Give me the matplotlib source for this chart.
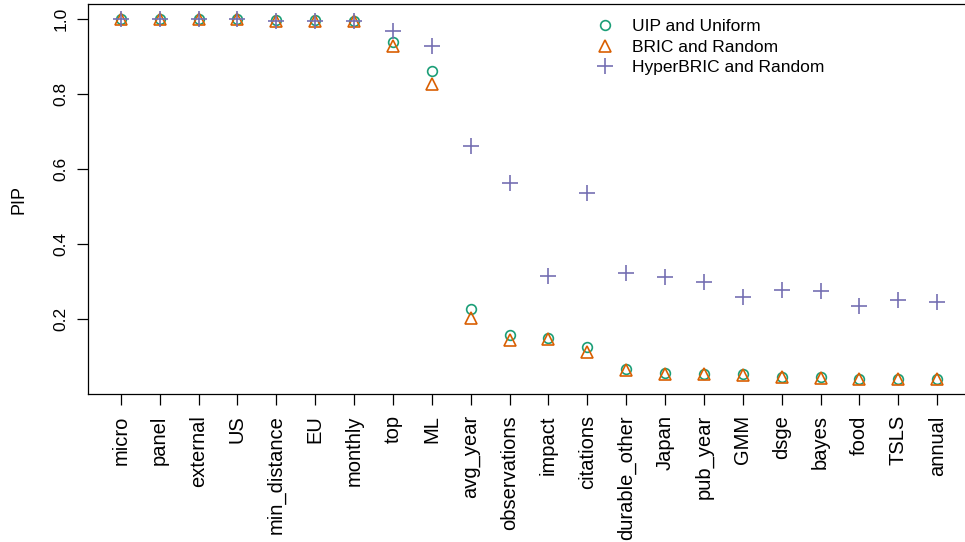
import matplotlib
matplotlib.use("Agg")
import matplotlib.pyplot as plt
import numpy as np

plt.rcParams["font.family"] = ["Liberation Sans", "DejaVu Sans"]

variables = ["micro", "panel", "external", "US", "min_distance", "EU", "monthly",
             "top", "ML", "avg_year", "observations", "impact", "citations",
             "durable_other", "Japan", "pub_year", "GMM", "dsge", "bayes", "food",
             "TSLS", "annual"]
pip_uip = [1.000, 1.000, 1.000, 0.999, 0.996, 0.996, 0.994, 0.937, 0.860, 0.225,
           0.157, 0.149, 0.126, 0.067, 0.056, 0.054, 0.052, 0.046, 0.044, 0.041,
           0.041, 0.041]
pip_bric = [1.000, 1.000, 1.000, 0.999, 0.995, 0.995, 0.993, 0.928, 0.826, 0.201,
            0.143, 0.147, 0.112, 0.064, 0.053, 0.052, 0.050, 0.044, 0.042, 0.039,
            0.039, 0.039]
pip_hyper = [1.000, 1.000, 1.000, 0.999, 0.995, 0.995, 0.995, 0.966, 0.928, 0.661,
             0.562, 0.313, 0.535, 0.322, 0.311, 0.299, 0.257, 0.277, 0.275, 0.235,
             0.251, 0.246]

GREEN, ORANGE, PURPLE = "#1B9E77", "#D95F02", "#7570B3"

fig = plt.figure(figsize=(9.65, 5.42), dpi=100)
ax = fig.add_axes([0.0913, 0.2725, 0.9138, 0.7201])
x = np.arange(1, len(variables) + 1)

ax.plot(x, pip_uip, ls="none", marker="o", ms=7, mfc="none", mec=GREEN, mew=1.2,
        label="UIP and Uniform")
ax.plot(x, pip_bric, ls="none", marker="^", ms=9, mfc="none", mec=ORANGE, mew=1.2,
        label="BRIC and Random")
ax.plot(x, pip_hyper, ls="none", marker="+", ms=11, mec=PURPLE, mew=1.2,
        label="HyperBRIC and Random")

ax.set_xlim(0.16, 22.84)
ax.set_ylim(-0.001, 1.039)
ax.set_xticks(x)
ax.set_xticklabels(variables, rotation=90, fontsize=14.5)
ax.set_yticks([0.2, 0.4, 0.6, 0.8, 1.0])
ax.set_yticklabels(["0.2", "0.4", "0.6", "0.8", "1.0"], rotation=90, va="center",
                   fontsize=12.5)
ax.tick_params(direction="out", length=8, width=0.9, pad=6)
ax.tick_params(axis="x", pad=7)
ax.set_ylabel("PIP", fontsize=13, labelpad=19)
for s in ax.spines.values():
    s.set_linewidth(0.9)

ax.legend(loc="upper left", bbox_to_anchor=(0.567, 0.98), frameon=False,
          fontsize=12.5, handletextpad=0.95, labelspacing=0.32, borderaxespad=0,
          handlelength=1.2)

fig.savefig("out.png", dpi=100)
